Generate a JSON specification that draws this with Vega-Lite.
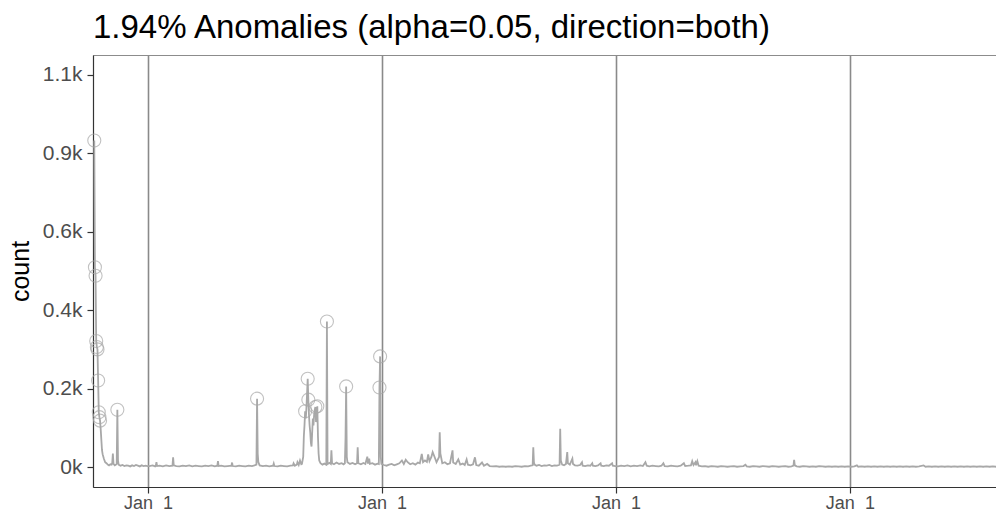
{
  "$schema": "https://vega.github.io/schema/vega-lite/v6.json",
  "autosize": "none",
  "width": 903,
  "height": 432,
  "padding": {"left": 93, "top": 55, "right": 0, "bottom": 27},
  "config": {
    "font": "Liberation Sans",
    "view": {"stroke": "#8c8c8c", "strokeWidth": 1}
  },
  "title": {
    "text": "1.94% Anomalies (alpha=0.05, direction=both)",
    "anchor": "start",
    "frame": "group",
    "baseline": "alphabetic",
    "offset": 18,
    "dy": 34,
    "fontSize": 33,
    "fontWeight": "normal",
    "color": "#000000"
  },
  "datasets": {
    "series": [
      {"d":"2012-10-09","v":936},{"d":"2012-10-10","v":573},{"d":"2012-10-11","v":549},{"d":"2012-10-12","v":362},
      {"d":"2012-10-13","v":345},{"d":"2012-10-14","v":338},{"d":"2012-10-15","v":249},{"d":"2012-10-16","v":158},
      {"d":"2012-10-17","v":144},{"d":"2012-10-18","v":134},{"d":"2012-10-19","v":110},{"d":"2012-10-20","v":80},
      {"d":"2012-10-21","v":50},{"d":"2012-10-22","v":38},{"d":"2012-10-24","v":25},{"d":"2012-10-26","v":15},
      {"d":"2012-10-28","v":12},{"d":"2012-10-30","v":8},{"d":"2012-11-01","v":6},
      {"d":"2012-11-03","v":9},{"d":"2012-11-05","v":8},{"d":"2012-11-06","v":12},{"d":"2012-11-07","v":40},
      {"d":"2012-11-08","v":10},{"d":"2012-11-10","v":6},{"d":"2012-11-12","v":8},{"d":"2012-11-13","v":10},
      {"d":"2012-11-14","v":165},{"d":"2012-11-15","v":20},{"d":"2012-11-16","v":8},{"d":"2012-11-19","v":5},
      {"d":"2012-11-22","v":7},{"d":"2012-11-25","v":4},{"d":"2012-11-28","v":6},{"d":"2012-12-01","v":5},
      {"d":"2012-12-04","v":3},{"d":"2012-12-07","v":6},{"d":"2012-12-10","v":4},{"d":"2012-12-13","v":7},
      {"d":"2012-12-16","v":5},{"d":"2012-12-19","v":3},{"d":"2012-12-22","v":6},{"d":"2012-12-25","v":4},
      {"d":"2012-12-28","v":5},{"d":"2012-12-31","v":4},
      {"d":"2013-01-03","v":4},{"d":"2013-01-08","v":6},{"d":"2013-01-12","v":3},{"d":"2013-01-13","v":5},
      {"d":"2013-01-14","v":15},{"d":"2013-01-15","v":4},{"d":"2013-01-19","v":5},{"d":"2013-01-24","v":3},
      {"d":"2013-01-29","v":6},{"d":"2013-02-03","v":4},{"d":"2013-02-08","v":5},{"d":"2013-02-09","v":29},
      {"d":"2013-02-10","v":6},{"d":"2013-02-14","v":4},{"d":"2013-02-19","v":3},{"d":"2013-02-24","v":5},
      {"d":"2013-03-01","v":4},{"d":"2013-03-06","v":6},{"d":"2013-03-11","v":3},{"d":"2013-03-16","v":5},
      {"d":"2013-03-21","v":4},{"d":"2013-03-26","v":3},{"d":"2013-03-31","v":5},{"d":"2013-04-05","v":4},
      {"d":"2013-04-10","v":6},{"d":"2013-04-15","v":3},{"d":"2013-04-19","v":5},{"d":"2013-04-20","v":18},
      {"d":"2013-04-21","v":4},{"d":"2013-04-25","v":5},{"d":"2013-04-30","v":3},{"d":"2013-05-05","v":4},
      {"d":"2013-05-11","v":5},{"d":"2013-05-12","v":14},{"d":"2013-05-13","v":4},{"d":"2013-05-18","v":3},
      {"d":"2013-05-23","v":5},{"d":"2013-05-28","v":4},{"d":"2013-06-02","v":3},{"d":"2013-06-07","v":5},
      {"d":"2013-06-12","v":4},{"d":"2013-06-16","v":6},{"d":"2013-06-19","v":8},{"d":"2013-06-20","v":197},
      {"d":"2013-06-21","v":40},{"d":"2013-06-22","v":15},{"d":"2013-06-24","v":6},{"d":"2013-06-29","v":4},
      {"d":"2013-07-04","v":5},{"d":"2013-07-09","v":3},{"d":"2013-07-15","v":5},{"d":"2013-07-16","v":11},
      {"d":"2013-07-17","v":4},{"d":"2013-07-22","v":3},{"d":"2013-07-27","v":5},{"d":"2013-08-01","v":4},
      {"d":"2013-08-06","v":3},{"d":"2013-08-11","v":5},{"d":"2013-08-15","v":6},{"d":"2013-08-16","v":12},
      {"d":"2013-08-18","v":5},{"d":"2013-08-21","v":8},{"d":"2013-08-22","v":15},{"d":"2013-08-24","v":7},
      {"d":"2013-08-26","v":20},{"d":"2013-08-28","v":9},{"d":"2013-08-29","v":10},{"d":"2013-08-31","v":30},
      {"d":"2013-09-01","v":90},{"d":"2013-09-02","v":120},{"d":"2013-09-03","v":161},{"d":"2013-09-04","v":140},
      {"d":"2013-09-05","v":170},{"d":"2013-09-06","v":210},{"d":"2013-09-07","v":254},{"d":"2013-09-08","v":194},
      {"d":"2013-09-09","v":150},{"d":"2013-09-10","v":120},{"d":"2013-09-11","v":100},{"d":"2013-09-12","v":70},
      {"d":"2013-09-13","v":60},{"d":"2013-09-14","v":100},{"d":"2013-09-15","v":140},{"d":"2013-09-16","v":120},
      {"d":"2013-09-17","v":150},{"d":"2013-09-18","v":165},{"d":"2013-09-19","v":173},{"d":"2013-09-20","v":130},
      {"d":"2013-09-21","v":150},{"d":"2013-09-22","v":175},{"d":"2013-09-23","v":90},{"d":"2013-09-24","v":40},
      {"d":"2013-09-25","v":20},{"d":"2013-09-27","v":12},{"d":"2013-09-30","v":8},{"d":"2013-10-03","v":11},
      {"d":"2013-10-06","v":8},{"d":"2013-10-07","v":418},{"d":"2013-10-08","v":10},{"d":"2013-10-11","v":13},
      {"d":"2013-10-13","v":10},{"d":"2013-10-14","v":49},{"d":"2013-10-15","v":12},{"d":"2013-10-18","v":9},
      {"d":"2013-10-22","v":14},{"d":"2013-10-26","v":10},{"d":"2013-10-30","v":12},{"d":"2013-11-02","v":9},
      {"d":"2013-11-04","v":12},{"d":"2013-11-05","v":83},{"d":"2013-11-06","v":232},{"d":"2013-11-07","v":30},
      {"d":"2013-11-08","v":15},{"d":"2013-11-12","v":10},{"d":"2013-11-16","v":13},{"d":"2013-11-20","v":9},
      {"d":"2013-11-23","v":12},{"d":"2013-11-24","v":58},{"d":"2013-11-25","v":12},{"d":"2013-11-29","v":9},
      {"d":"2013-12-03","v":13},{"d":"2013-12-06","v":10},{"d":"2013-12-09","v":31},{"d":"2013-12-10","v":11},
      {"d":"2013-12-12","v":25},{"d":"2013-12-13","v":10},{"d":"2013-12-17","v":12},{"d":"2013-12-21","v":8},
      {"d":"2013-12-25","v":11},{"d":"2013-12-27","v":10},{"d":"2013-12-28","v":229},{"d":"2013-12-29","v":318},
      {"d":"2013-12-30","v":30},{"d":"2013-12-31","v":10},
      {"d":"2014-01-04","v":7},{"d":"2014-01-08","v":5},{"d":"2014-01-12","v":8},{"d":"2014-01-16","v":10},
      {"d":"2014-01-20","v":6},{"d":"2014-01-24","v":9},{"d":"2014-01-28","v":12},{"d":"2014-02-01","v":20},
      {"d":"2014-02-04","v":10},{"d":"2014-02-07","v":22},{"d":"2014-02-10","v":15},{"d":"2014-02-14","v":9},
      {"d":"2014-02-18","v":12},{"d":"2014-02-22","v":8},{"d":"2014-02-26","v":14},{"d":"2014-03-01","v":12},
      {"d":"2014-03-04","v":39},{"d":"2014-03-06","v":15},{"d":"2014-03-09","v":20},{"d":"2014-03-12","v":16},
      {"d":"2014-03-14","v":37},{"d":"2014-03-16","v":18},{"d":"2014-03-19","v":30},{"d":"2014-03-21","v":44},
      {"d":"2014-03-24","v":30},{"d":"2014-03-27","v":15},{"d":"2014-03-31","v":30},{"d":"2014-04-01","v":101},
      {"d":"2014-04-02","v":40},{"d":"2014-04-05","v":12},{"d":"2014-04-09","v":15},{"d":"2014-04-13","v":9},
      {"d":"2014-04-17","v":12},{"d":"2014-04-21","v":49},{"d":"2014-04-22","v":14},{"d":"2014-04-26","v":10},
      {"d":"2014-04-30","v":23},{"d":"2014-05-03","v":8},{"d":"2014-05-07","v":11},{"d":"2014-05-10","v":7},
      {"d":"2014-05-13","v":23},{"d":"2014-05-15","v":8},{"d":"2014-05-19","v":6},{"d":"2014-05-23","v":9},
      {"d":"2014-05-26","v":29},{"d":"2014-05-28","v":7},{"d":"2014-06-01","v":5},{"d":"2014-06-06","v":14},
      {"d":"2014-06-09","v":5},{"d":"2014-06-14","v":10},{"d":"2014-06-18","v":4},{"d":"2014-06-23","v":3},
      {"d":"2014-06-28","v":4},{"d":"2014-07-03","v":2},{"d":"2014-07-08","v":3},{"d":"2014-07-13","v":2},
      {"d":"2014-07-18","v":3},{"d":"2014-07-23","v":2},{"d":"2014-07-28","v":4},{"d":"2014-08-02","v":3},
      {"d":"2014-08-07","v":2},{"d":"2014-08-12","v":4},{"d":"2014-08-17","v":3},{"d":"2014-08-21","v":5},
      {"d":"2014-08-24","v":6},{"d":"2014-08-25","v":58},{"d":"2014-08-26","v":15},{"d":"2014-08-27","v":8},
      {"d":"2014-08-30","v":5},{"d":"2014-09-03","v":7},{"d":"2014-09-07","v":4},{"d":"2014-09-11","v":6},
      {"d":"2014-09-15","v":5},{"d":"2014-09-19","v":7},{"d":"2014-09-23","v":4},{"d":"2014-09-27","v":6},
      {"d":"2014-10-01","v":5},{"d":"2014-10-04","v":7},{"d":"2014-10-05","v":8},{"d":"2014-10-06","v":111},
      {"d":"2014-10-07","v":20},{"d":"2014-10-09","v":8},{"d":"2014-10-12","v":6},{"d":"2014-10-15","v":10},
      {"d":"2014-10-17","v":44},{"d":"2014-10-18","v":12},{"d":"2014-10-21","v":8},{"d":"2014-10-25","v":25},
      {"d":"2014-10-26","v":10},{"d":"2014-10-29","v":6},{"d":"2014-11-02","v":5},{"d":"2014-11-06","v":7},
      {"d":"2014-11-09","v":15},{"d":"2014-11-10","v":5},{"d":"2014-11-14","v":4},{"d":"2014-11-18","v":6},
      {"d":"2014-11-22","v":5},{"d":"2014-11-25","v":12},{"d":"2014-11-26","v":5},{"d":"2014-11-30","v":4},
      {"d":"2014-12-04","v":6},{"d":"2014-12-08","v":12},{"d":"2014-12-09","v":5},{"d":"2014-12-13","v":4},
      {"d":"2014-12-17","v":6},{"d":"2014-12-21","v":5},{"d":"2014-12-26","v":12},{"d":"2014-12-27","v":5},
      {"d":"2014-12-31","v":4},
      {"d":"2015-01-04","v":3},{"d":"2015-01-09","v":5},{"d":"2015-01-14","v":4},{"d":"2015-01-19","v":6},
      {"d":"2015-01-24","v":3},{"d":"2015-01-29","v":5},{"d":"2015-02-03","v":4},{"d":"2015-02-08","v":6},
      {"d":"2015-02-12","v":4},{"d":"2015-02-16","v":15},{"d":"2015-02-18","v":5},{"d":"2015-02-22","v":3},
      {"d":"2015-02-27","v":5},{"d":"2015-03-04","v":4},{"d":"2015-03-09","v":3},{"d":"2015-03-13","v":5},
      {"d":"2015-03-16","v":12},{"d":"2015-03-18","v":4},{"d":"2015-03-23","v":3},{"d":"2015-03-28","v":5},
      {"d":"2015-04-02","v":4},{"d":"2015-04-07","v":3},{"d":"2015-04-12","v":5},{"d":"2015-04-17","v":12},
      {"d":"2015-04-19","v":4},{"d":"2015-04-24","v":5},{"d":"2015-04-28","v":6},{"d":"2015-04-30","v":18},
      {"d":"2015-05-02","v":7},{"d":"2015-05-05","v":15},{"d":"2015-05-06","v":6},{"d":"2015-05-08","v":18},
      {"d":"2015-05-10","v":5},{"d":"2015-05-15","v":3},{"d":"2015-05-20","v":4},{"d":"2015-05-25","v":2},
      {"d":"2015-05-30","v":4},{"d":"2015-06-04","v":3},{"d":"2015-06-09","v":2},{"d":"2015-06-14","v":4},
      {"d":"2015-06-19","v":3},{"d":"2015-06-24","v":2},{"d":"2015-06-29","v":3},{"d":"2015-07-04","v":4},
      {"d":"2015-07-09","v":2},{"d":"2015-07-14","v":3},{"d":"2015-07-19","v":4},{"d":"2015-07-22","v":8},
      {"d":"2015-07-24","v":3},{"d":"2015-07-29","v":2},{"d":"2015-08-03","v":4},{"d":"2015-08-08","v":3},
      {"d":"2015-08-13","v":2},{"d":"2015-08-18","v":4},{"d":"2015-08-23","v":3},{"d":"2015-08-28","v":2},
      {"d":"2015-09-02","v":4},{"d":"2015-09-07","v":3},{"d":"2015-09-12","v":2},{"d":"2015-09-17","v":3},
      {"d":"2015-09-22","v":4},{"d":"2015-09-27","v":2},{"d":"2015-10-02","v":3},{"d":"2015-10-05","v":5},
      {"d":"2015-10-06","v":22},{"d":"2015-10-07","v":6},{"d":"2015-10-10","v":3},{"d":"2015-10-15","v":2},
      {"d":"2015-10-20","v":4},{"d":"2015-10-25","v":3},{"d":"2015-10-30","v":2},{"d":"2015-11-04","v":3},
      {"d":"2015-11-09","v":2},{"d":"2015-11-14","v":4},{"d":"2015-11-19","v":3},{"d":"2015-11-24","v":2},
      {"d":"2015-11-29","v":3},{"d":"2015-12-04","v":2},{"d":"2015-12-09","v":3},{"d":"2015-12-14","v":2},
      {"d":"2015-12-19","v":3},{"d":"2015-12-24","v":2},{"d":"2015-12-29","v":3},
      {"d":"2016-01-03","v":2},{"d":"2016-01-08","v":3},{"d":"2016-01-12","v":6},{"d":"2016-01-14","v":2},
      {"d":"2016-01-19","v":3},{"d":"2016-01-24","v":2},{"d":"2016-01-29","v":3},{"d":"2016-02-03","v":2},
      {"d":"2016-02-08","v":3},{"d":"2016-02-13","v":2},{"d":"2016-02-18","v":3},{"d":"2016-02-23","v":2},
      {"d":"2016-02-28","v":3},{"d":"2016-03-04","v":2},{"d":"2016-03-09","v":3},{"d":"2016-03-14","v":2},
      {"d":"2016-03-19","v":3},{"d":"2016-03-24","v":2},{"d":"2016-03-29","v":3},{"d":"2016-04-03","v":2},
      {"d":"2016-04-08","v":3},{"d":"2016-04-13","v":2},{"d":"2016-04-18","v":3},{"d":"2016-04-25","v":6},
      {"d":"2016-04-28","v":2},{"d":"2016-05-03","v":3},{"d":"2016-05-08","v":2},{"d":"2016-05-13","v":3},
      {"d":"2016-05-18","v":2},{"d":"2016-05-23","v":3},{"d":"2016-05-28","v":2},{"d":"2016-06-02","v":3},
      {"d":"2016-06-07","v":2},{"d":"2016-06-12","v":3},{"d":"2016-06-17","v":2},{"d":"2016-06-22","v":3},
      {"d":"2016-06-27","v":2},{"d":"2016-07-02","v":3},{"d":"2016-07-07","v":2},{"d":"2016-07-12","v":3},
      {"d":"2016-07-17","v":2},{"d":"2016-07-22","v":3},{"d":"2016-07-27","v":2},{"d":"2016-08-01","v":3},
      {"d":"2016-08-06","v":2},{"d":"2016-08-11","v":3},{"d":"2016-08-16","v":2}
    ],
    "anoms": [
      {"d":"2012-10-09","v":936},{"d":"2012-10-10","v":573},{"d":"2012-10-11","v":549},{"d":"2012-10-12","v":362},
      {"d":"2012-10-13","v":345},{"d":"2012-10-14","v":338},{"d":"2012-10-15","v":249},{"d":"2012-10-16","v":158},
      {"d":"2012-10-17","v":144},{"d":"2012-10-18","v":134},{"d":"2012-11-14","v":165},{"d":"2013-06-20","v":197},
      {"d":"2013-09-03","v":161},{"d":"2013-09-07","v":254},{"d":"2013-09-08","v":194},{"d":"2013-09-19","v":173},
      {"d":"2013-09-22","v":175},{"d":"2013-10-07","v":418},{"d":"2013-11-06","v":232},{"d":"2013-12-28","v":229},
      {"d":"2013-12-29","v":318}
    ]
  },
  "layer": [
    {
      "data": {"name": "series"},
      "mark": {"type": "line", "color": "#a8a8a8", "strokeWidth": 1.8, "clip": true},
      "encoding": {
        "x": {
          "field": "d",
          "type": "temporal",
          "scale": {"type": "utc", "domain": ["2012-10-07", "2016-08-16"], "nice": false},
          "axis": {
            "title": null,
            "values": [
              {"year": 2013, "month": 1, "date": 1, "utc": true},
              {"year": 2014, "month": 1, "date": 1, "utc": true},
              {"year": 2015, "month": 1, "date": 1, "utc": true},
              {"year": 2016, "month": 1, "date": 1, "utc": true}
            ],
            "labelExpr": "utcFormat(datum.value, '%b') + '\u00a0\u00a0' + utcFormat(datum.value, '%-d')",
            "grid": true,
            "gridColor": "#8a8a8a",
            "gridWidth": 1.6,
            "domainColor": "#333333",
            "domainWidth": 1.2,
            "tickColor": "#333333",
            "tickWidth": 1.2,
            "tickSize": 6,
            "labelFontSize": 18,
            "labelColor": "#4d4d4d",
            "labelPadding": 1,
            "labelFlush": false
          }
        },
        "y": {
          "field": "v",
          "type": "quantitative",
          "scale": {"domain": [-56, 1181], "nice": false, "zero": false},
          "axis": {
            "title": "count",
            "titleFontSize": 25,
            "titleFontWeight": "normal",
            "titleColor": "#000000",
            "titleX": -65,
            "titleY": 216,
            "titleBaseline": "alphabetic",
            "values": [0, 225, 450, 675, 900, 1125],
            "labelExpr": "datum.value == 0 ? '0k' : datum.value == 225 ? '0.2k' : datum.value == 450 ? '0.4k' : datum.value == 675 ? '0.6k' : datum.value == 900 ? '0.9k' : '1.1k'",
            "grid": false,
            "domainColor": "#333333",
            "domainWidth": 1.2,
            "tickColor": "#333333",
            "tickWidth": 1.2,
            "tickSize": 6,
            "labelFontSize": 21,
            "labelColor": "#4d4d4d",
            "labelPadding": 5
          }
        }
      }
    },
    {
      "data": {"name": "anoms"},
      "mark": {"type": "point", "shape": "circle", "filled": false, "color": "#a8a8a8", "strokeWidth": 1.1, "size": 170},
      "encoding": {
        "x": {"field": "d", "type": "temporal"},
        "y": {"field": "v", "type": "quantitative"}
      }
    }
  ]
}
